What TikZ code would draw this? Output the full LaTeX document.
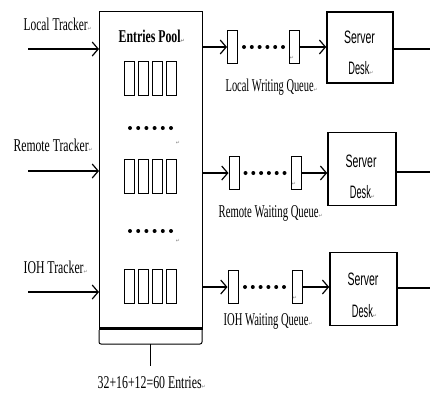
\documentclass[tikz,border=0pt]{standalone}
\usepackage{fontspec}
\setmainfont{Liberation Serif}
\setsansfont{Liberation Sans}
\newfontfamily\symfont{DejaVu Sans}
\usetikzlibrary{arrows.meta}
\newcommand{\fw}[2]{\resizebox{#1}{\height}{#2}}
\newcommand{\retm}{{\symfont\fontsize{5}{5}\selectfont\textcolor{gray}{↵}}}
\begin{document}
\begin{tikzpicture}[x=1pt,y=-1pt,
  line width=1.3pt,
  arr/.style={-{Straight Barb[length=6pt,width=14pt,line width=1.2pt]}},
  lbl/.style={font=\fontsize{18}{19}\selectfont, inner sep=0pt, anchor=base west},
  slot/.style={draw, line width=0.9pt, minimum width=10pt, minimum height=34pt, inner sep=0pt},
  qslot/.style={draw, line width=1pt, minimum width=10pt, minimum height=33pt, inner sep=0pt},
  desk/.style={draw, line width=1.6pt, inner sep=0pt},
  dtxt/.style={font=\sffamily\fontsize{18}{19}\selectfont, inner sep=0pt, anchor=base},
  bigdot/.style={fill, circle, inner sep=0pt, minimum size=4pt},
  qdot/.style={fill, circle, inner sep=0pt, minimum size=4pt},
  retn/.style={inner sep=0pt}]
\useasboundingbox (0,0) rectangle (430,394);

% pool
\node[draw, line width=1.3pt, anchor=north west, minimum width=103pt, minimum height=316pt, inner sep=0pt] (pool) at (99,11) {};
\draw[line width=2.6pt] (pool.south west) -- (pool.south east);
\node[lbl, font=\bfseries\fontsize{18}{19}\selectfont] (title) at (118,42) {\fw{62pt}{Entries Pool}\retm};

% slots
\foreach \g/\y in {1/78, 2/176, 3/286}{
  \foreach \i/\x in {1/129.5, 2/143.5, 3/157.5, 4/171.5}{
    \node[slot] (s\g\i) at (\x,\y) {};
  }
}
\foreach \g/\y in {1/128, 2/231}{
  \foreach \i/\x in {1/130, 2/138.2, 3/146.4, 4/154.6, 5/162.8, 6/171}{
    \node[bigdot] (pd\g\i) at (\x,\y) {};
  }
}
\node[retn] (r1) at (178,143) {\retm};
\node[retn] (r2) at (178,241) {\retm};

% trackers
\node[lbl] (lt) at (23,30.7) {\fw{64pt}{Local Tracker}\retm};
\node[lbl] (rt) at (13,151) {\fw{75pt}{Remote Tracker}\retm};
\node[lbl] (it) at (23,273) {\fw{60pt}{IOH Tracker}\retm};
\coordinate (lts) at (28,49);
\coordinate (rts) at (28,171);
\coordinate (its) at (28,292);
\draw[arr] (lts) -- (lts -| pool.west);
\draw[arr] (rts) -- (rts -| pool.west);
\draw[arr] (its) -- (its -| pool.west);

% queues
\node[qslot] (qa1) at (232.5,47) {};
\node[qslot] (qb1) at (294,47) {};
\node[qslot] (qa2) at (234,173) {};
\node[qslot] (qb2) at (296,173) {};
\node[qslot] (qa3) at (233,287) {};
\node[qslot] (qb3) at (297,287) {};
\foreach \r/\y/\xa in {1/47/244, 2/173/245.5, 3/287/245}{
  \foreach \i in {0,...,5}{
    \node[qdot] (qd\r\i) at (\xa+\i*7.8,\y) {};
  }
}
\node[retn] (qr1) at (292,58) {\retm};
\node[retn] (qr2) at (294,184) {\retm};
\node[retn] (qr3) at (295,298) {\retm};

% desks
\node[desk, minimum width=66pt, minimum height=71pt] (d1) at (360,47.5) {};
\node[desk, minimum width=68pt, minimum height=73pt] (d2) at (362,169) {};
\node[desk, minimum width=67pt, minimum height=73pt] (d3) at (363.5,289) {};
\node[dtxt] (d1a) at (359.5,43) {\fw{31pt}{Server}};
\node[dtxt] (d1b) at (361,74) {\fw{21pt}{Desk}\retm};
\node[dtxt] (d2a) at (361,167) {\fw{31pt}{Server}};
\node[dtxt] (d2b) at (362.5,198) {\fw{21pt}{Desk}\retm};
\node[dtxt] (d3a) at (363,285) {\fw{31pt}{Server}};
\node[dtxt] (d3b) at (364.5,317) {\fw{21pt}{Desk}\retm};

% connectors
\draw[arr] (pool.east |- qa1.west) -- (qa1.west);
\draw[arr] (pool.east |- qa2.west) -- (qa2.west);
\draw[arr] (pool.east |- qa3.west) -- (qa3.west);
\draw[arr] (qb1.east) -- (qb1.east -| d1.west);
\draw[arr] (qb2.east) -- (qb2.east -| d2.west);
\draw[arr] (qb3.east) -- (qb3.east -| d3.west);
\coordinate (o1) at (430,49);
\coordinate (o2) at (430,172);
\coordinate (o3) at (430,288);
\draw (d1.east |- o1) -- (o1);
\draw (d2.east |- o2) -- (o2);
\draw (d3.east |- o3) -- (o3);

% queue labels
\node[lbl] (ql1) at (225,91) {\fw{88pt}{Local Writing Queue}\retm};
\node[lbl] (ql2) at (218,217) {\fw{100pt}{Remote Waiting Queue}\retm};
\node[lbl] (ql3) at (223,325) {\fw{85pt}{IOH Waiting Queue}\retm};

% bracket
\coordinate (bl) at (99,330);
\coordinate (br) at (202,330);
\coordinate (bm) at (150.5,344);
\coordinate (bs) at (150.5,366);
\draw[line width=1pt, rounded corners=2pt] (bl) -- (bl |- bm) -- (br |- bm) -- (br);
\draw[line width=1pt] (bm) -- (bs);
\node[lbl] (tot) at (97,388) {\fw{104pt}{32+16+12=60 Entries}\retm};
\end{tikzpicture}
\end{document}
